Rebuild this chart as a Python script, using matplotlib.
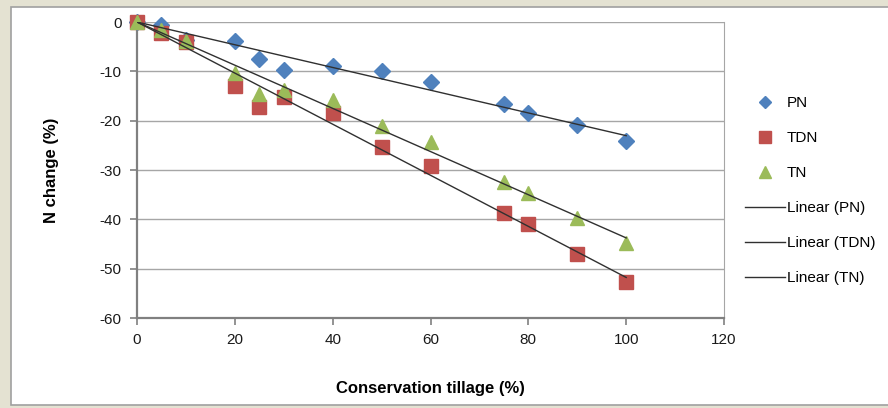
import numpy as np
import matplotlib.pyplot as plt
from matplotlib.lines import Line2D
from matplotlib.patches import Rectangle

# données
tillage = [0, 5, 10, 20, 25, 30, 40, 50, 60, 75, 80, 90, 100]
pn = [0, -0.7, -3.7, -3.9, -7.5, -9.7, -8.9, -9.9, -12.2, -16.6, -18.5, -20.8, -24.1]
tdn = [0, -2.2, -4.0, -13.0, -17.2, -15.3, -18.5, -25.3, -29.2, -38.8, -41.0, -47.0, -52.7]
tn = [0, -1.6, -3.9, -10.3, -14.5, -13.8, -15.8, -21.0, -24.4, -32.5, -34.7, -39.8, -44.8]

names = ["PN", "TDN", "TN"]
colors = ["#4F81BD", "#C0504D", "#9BBB59"]
markers = ["D", "s", "^"]
sizes = [8, 10, 10]

plt.rcParams['font.family'] = ['Liberation Sans', 'DejaVu Sans']
plt.rcParams['axes.unicode_minus'] = False

fig = plt.figure(figsize=(8.88, 4.08), dpi=100)
# bord beige comme la capture
fig.patches.append(Rectangle((0, 0), 1, 1, transform=fig.transFigure,
                             facecolor="#E4E2D2", edgecolor="none", zorder=-2))
fig.patches.append(Rectangle((11/888, 3/408), 1.1, 1-10/408, transform=fig.transFigure,
                             facecolor="white", edgecolor="#A0A0A0", lw=1.2, zorder=-1))

ax = fig.add_axes([137/888, 1-318/408, (724-137)/888, (318-22)/408])

x = np.array(tillage, dtype=float)
handles = []
for y, name, c, m, s in zip([pn, tdn, tn], names, colors, markers, sizes):
    ax.plot(x, y, linestyle="none", marker=m, markersize=s, color=c,
            markeredgecolor=c, zorder=3, clip_on=False)
    handles.append(Line2D([], [], linestyle="none", marker=m, markersize=s*0.8,
                          color=c, label=name))

# tendances linéaires (ordonnée à l'origine fixée à 0)
for y, name in zip([pn, tdn, tn], names):
    yy = np.array(y)
    slope = np.sum(x*yy) / np.sum(x*x)
    ax.plot([0, 100], [0, slope*100], color="#303030", lw=1.0, zorder=4)
    handles.append(Line2D([], [], color="#303030", lw=1.0, label=f"Linear ({name})"))

ax.set_xlim(0, 120)
ax.set_ylim(-60, 0)
ax.set_xticks(range(0, 121, 20))
ax.set_yticks(range(-60, 1, 10))
ax.grid(axis="y", color="#A6A6A6", lw=1.0)
ax.set_axisbelow(True)
for side in ["left", "bottom"]:
    ax.spines[side].set_color("#808080")
    ax.spines[side].set_linewidth(1.6)
ax.spines["right"].set_color("#A6A6A6")
ax.spines["top"].set_visible(False)
ax.tick_params(axis="both", direction="out", length=5, width=1.2, color="#808080",
               labelsize=11, labelcolor="#1a1a1a", pad=6)

ax.set_xlabel("Conservation tillage (%)", fontsize=12, fontweight="bold", labelpad=24)
ax.set_ylabel("N change (%)", fontsize=12, fontweight="bold", labelpad=29)

ax.legend(handles=handles, loc="upper left", bbox_to_anchor=(745/888, 1-96/408),
          bbox_transform=fig.transFigure, frameon=False, fontsize=11,
          borderaxespad=0, borderpad=0,
          handlelength=2.6, labelspacing=1.38, handletextpad=0.15)

fig.savefig("out.png", dpi=100)
